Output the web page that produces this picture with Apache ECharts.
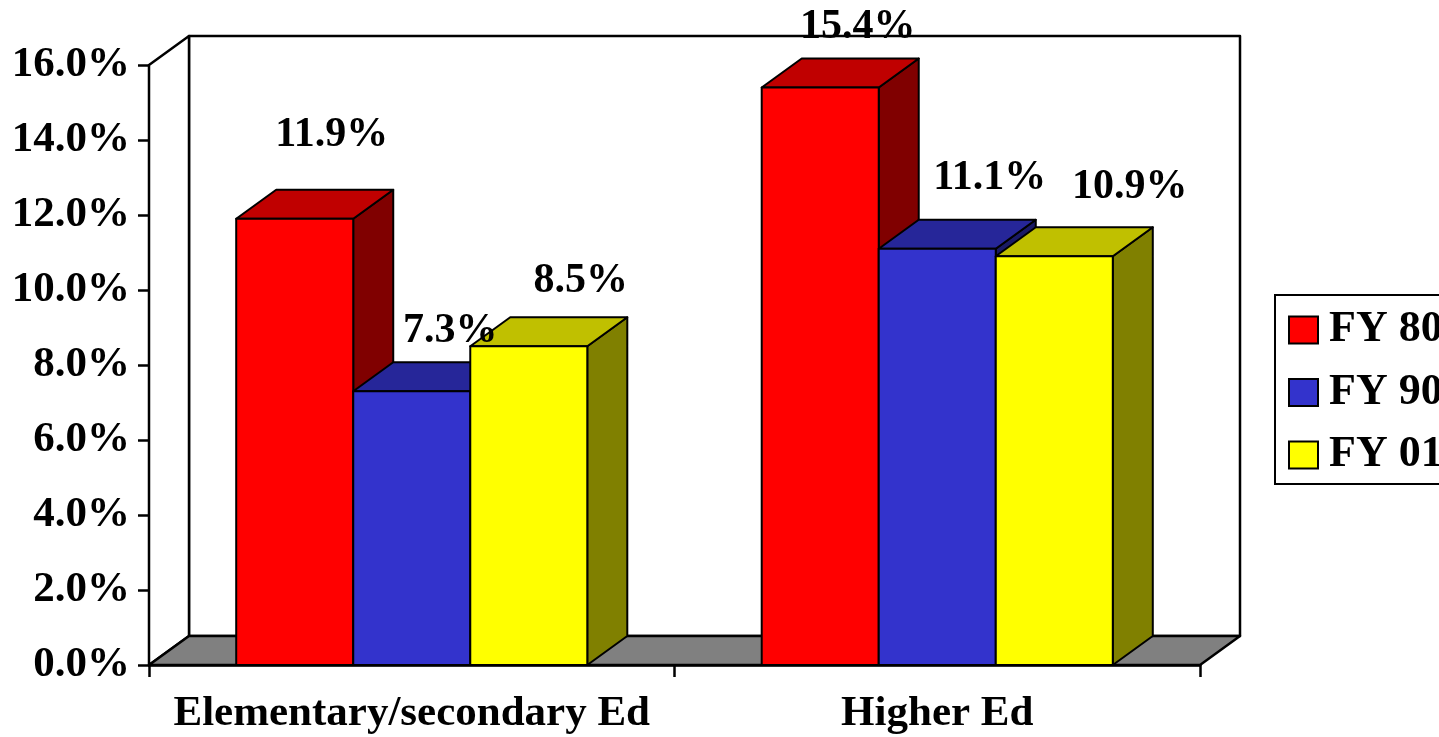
<!DOCTYPE html>
<html>
<head>
<meta charset="utf-8">
<script src="https://cdn.jsdelivr.net/npm/echarts@6/dist/echarts.min.js"></script>
<style>
  html, body { margin: 0; padding: 0; background: #fff; }
  #chart { width: 1439px; height: 737px; }
</style>
</head>
<body>
<div id="chart"></div>
<script>
// Share of spending, by sector and fiscal year
const categories = ['Elementary/secondary Ed', 'Higher Ed'];
const seriesNames = ['FY 80', 'FY 90', 'FY 01'];
const fy80 = [11.9, 15.4];
const fy90 = [7.3, 11.1];
const fy01 = [8.5, 10.9];
const seriesValues = [fy80, fy90, fy01];

// Value axis range (percent)
const yMin = 0, yMax = 16, yStep = 2;

// Face colours for each series: front, top (lit), side (shaded)
const faceColors = [
  { front: '#FF0000', top: '#C00000', side: '#800000' },
  { front: '#3333CC', top: '#262699', side: '#1A1A66' },
  { front: '#FFFF00', top: '#C0C000', side: '#808000' }
];

// Pseudo-3D depth offset and bar width as a share of one category band
const DX = 40, DY = -29;
const BAR_FRAC = 0.2227;
const LABEL_LIFT = -36;
// Per-label placement tweaks [dx, dy] around the default spot above each bar
const labelShift = [
  [[-3, -19], [-2.5, 4.5]],
  [[-1.5, 5], [12.5, -6]],
  [[12, 0], [35.5, -4]]
];

const FONT = '"Liberation Serif", "Times New Roman", serif';
const EDGE = { stroke: '#000', lineWidth: 2, lineJoin: 'round' };

function barGeom(api, k) {
  const i = api.value(0), v = api.value(1);
  const base = api.coord([i, 0]);
  const top = api.coord([i, v]);
  const band = api.size([1, 0])[0];
  const w = band * BAR_FRAC;
  const x0 = base[0] - 1.5 * w + k * w;
  return { i: i, v: v, x0: x0, x1: x0 + w, w: w, y0: base[1], yt: top[1] };
}

function barRenderer(k) {
  const c = faceColors[k];
  return function (params, api) {
    const g = barGeom(api, k);
    return {
      type: 'group',
      children: [
        { type: 'polygon',
          shape: { points: [[g.x1, g.yt], [g.x1 + DX, g.yt + DY], [g.x1 + DX, g.y0 + DY], [g.x1, g.y0]] },
          style: Object.assign({ fill: c.side }, EDGE) },
        { type: 'polygon',
          shape: { points: [[g.x0, g.yt], [g.x0 + DX, g.yt + DY], [g.x1 + DX, g.yt + DY], [g.x1, g.yt]] },
          style: Object.assign({ fill: c.top }, EDGE) },
        { type: 'rect',
          shape: { x: g.x0, y: g.yt, width: g.w, height: g.y0 - g.yt },
          style: Object.assign({ fill: c.front }, EDGE) }
      ]
    };
  };
}

function labelRenderer(k) {
  return function (params, api) {
    const g = barGeom(api, k);
    const s = labelShift[k][params.dataIndex] || [0, 0];
    return {
      type: 'text',
      x: (g.x0 + g.x1) / 2 + DX + s[0],
      y: g.yt + DY + LABEL_LIFT + s[1],
      style: {
        text: g.v.toFixed(1) + '%',
        align: 'center',
        verticalAlign: 'middle',
        fontFamily: FONT,
        fontWeight: 'bold',
        fontSize: 42,
        fill: '#000'
      }
    };
  };
}

// Back wall, side wall and floor of the plot box
function frameRenderer(params, api) {
  const cs = params.coordSys;
  const x = cs.x, y = cs.y, w = cs.width, h = cs.height;
  const line = { stroke: '#000', lineWidth: 2.5, lineJoin: 'round' };
  return {
    type: 'group',
    children: [
      { type: 'rect', shape: { x: x + DX, y: y + DY, width: w, height: h },
        style: Object.assign({ fill: '#fff' }, line) },
      { type: 'polygon', shape: { points: [[x, y], [x + DX, y + DY], [x + DX, y + h + DY], [x, y + h]] },
        style: Object.assign({ fill: '#fff' }, line) },
      { type: 'polygon', shape: { points: [[x, y + h], [x + DX, y + h + DY], [x + w + DX, y + h + DY], [x + w, y + h]] },
        style: Object.assign({ fill: '#808080' }, line) }
    ]
  };
}

const series = [{
  type: 'custom', name: 'frame', z: 1, silent: true,
  renderItem: frameRenderer,
  data: [[0, 0]],
  encode: { x: 0, y: 1 }
}];

seriesValues.forEach(function (vals, k) {
  const data = vals.map(function (v, i) { return [i, v]; });
  series.push({
    type: 'custom', name: seriesNames[k], z: 3 + k,
    renderItem: barRenderer(k),
    itemStyle: { color: faceColors[k].front },
    data: data,
    encode: { x: 0, y: 1 }
  });
});
seriesValues.forEach(function (vals, k) {
  const data = vals.map(function (v, i) { return [i, v]; });
  series.push({
    type: 'custom', name: seriesNames[k] + ' labels', z: 10, silent: true,
    renderItem: labelRenderer(k),
    data: data,
    encode: { x: 0, y: 1 }
  });
});

const chart = echarts.init(document.getElementById('chart'), null, { renderer: 'canvas' });
chart.setOption({
  animation: false,
  backgroundColor: '#fff',
  grid: { left: 149, right: 239, top: 65, bottom: 72, containLabel: false },
  legend: {
    data: seriesNames.map(function (n, k) {
      return { name: n, icon: 'rect',
        itemStyle: { color: faceColors[k].front, borderColor: '#000', borderWidth: 2 } };
    }),
    orient: 'vertical',
    left: 1275, top: 295,
    padding: [13, 20, 7, 13],
    itemWidth: 29, itemHeight: 27, itemGap: 18.5,
    borderColor: '#000', borderWidth: 2,
    backgroundColor: '#fff',
    selectedMode: false,
    textStyle: { fontFamily: FONT, fontWeight: 'bold', fontSize: 44, color: '#000', padding: [0, 0, 0, 6] }
  },
  xAxis: {
    type: 'category',
    data: categories,
    boundaryGap: true,
    axisLine: { lineStyle: { color: '#000', width: 2.5 } },
    axisTick: { show: true, length: 12, lineStyle: { color: '#000', width: 2.5 } },
    axisLabel: { margin: 27, color: '#000', fontFamily: FONT, fontWeight: 'bold', fontSize: 43, interval: 0 },
    splitLine: { show: false }
  },
  yAxis: {
    type: 'value',
    min: yMin, max: yMax, interval: yStep,
    axisLine: { show: true, lineStyle: { color: '#000', width: 2.5 } },
    axisTick: { show: true, length: 11, lineStyle: { color: '#000', width: 2.5 } },
    axisLabel: {
      margin: 19, color: '#000', fontFamily: FONT, fontWeight: 'bold', fontSize: 43,
      formatter: function (v) { return v.toFixed(1) + '%'; }
    },
    splitLine: { show: false }
  },
  series: series
});
</script>
</body>
</html>
